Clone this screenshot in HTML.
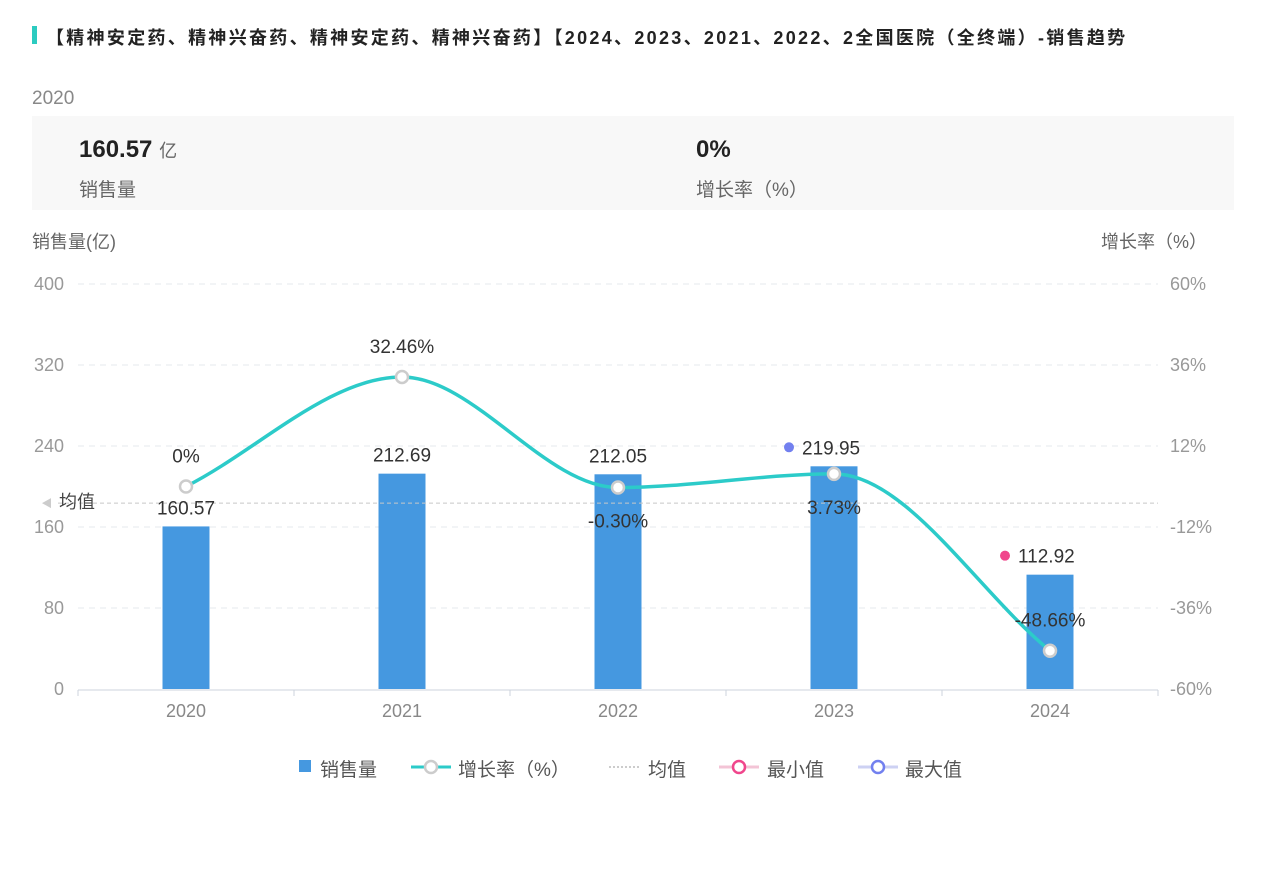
<!DOCTYPE html>
<html><head><meta charset="utf-8">
<style>
body{margin:0;width:1265px;height:869px;background:#fff;font-family:"Liberation Sans","Noto Sans CJK SC",sans-serif;position:relative;overflow:hidden}
.abs{position:absolute}
</style></head><body>
<div class="abs" style="left:32px;top:26px;width:5px;height:18px;background:#2ccbc0"></div>
<div class="abs" style="left:46px;top:24px;font-size:18px;font-weight:bold;color:#222;letter-spacing:2.3px;white-space:nowrap">【精神安定药、精神兴奋药、精神安定药、精神兴奋药】【2024、2023、2021、2022、2全国医院（全终端）-销售趋势</div>
<div class="abs" style="left:32px;top:88px;font-size:19px;color:#888">2020</div>
<div class="abs" style="left:32px;top:116px;width:1202px;height:94px;background:#f8f8f8"></div>
<div class="abs" style="left:79px;top:136px;font-size:24px;font-weight:bold;color:#222">160.57 <span style="font-size:18px;font-weight:normal;color:#666">亿</span></div>
<div class="abs" style="left:79px;top:175px;font-size:19px;color:#666">销售量</div>
<div class="abs" style="left:696px;top:136px;font-size:24px;font-weight:bold;color:#222">0%</div>
<div class="abs" style="left:696px;top:175px;font-size:19px;color:#666">增长率（%）</div>
<svg class="abs" style="left:0;top:0" width="1265" height="869" id="chart" font-family="Liberation Sans, Noto Sans CJK SC, sans-serif"></svg>
<script>
const categories=["2020","2021","2022","2023","2024"];
const sales=[160.57,212.69,212.05,219.95,112.92];
const growth=[0,32.46,-0.30,3.73,-48.66];
const leftTicks=[0,80,160,240,320,400];
const rightTicks=[-60,-36,-12,12,36,60];
const svg=document.getElementById('chart');
const NS='http://www.w3.org/2000/svg';
const X0=78,X1=1158,Y0=689,Y1=284;
const bw=(X1-X0)/categories.length;
const xc=i=>X0+bw*(i+0.5);
const yl=v=>Y0-(v/400)*(Y0-Y1);
const yr=v=>Y0-((v+60)/120)*(Y0-Y1);
function el(t,a,txt){const e=document.createElementNS(NS,t);for(const k in a)e.setAttribute(k,a[k]);if(txt!==undefined)e.textContent=txt;svg.appendChild(e);return e;}
let e;
e=el('text',{x:32,y:248,'font-size':18,fill:'#666'},'销售量(亿)');


e=el('text',{x:1207,y:248,'font-size':18,fill:'#666','text-anchor':'end'},'增长率（%）');


leftTicks.forEach((v,i)=>{
 const y=yl(v);
 if(v>0){e=el('line',{x1:X0,x2:X1,y1:y,y2:y,stroke:'#e6e8ec','stroke-dasharray':'6 5'});
 
 }
 e=el('text',{x:64,y:y+6,'font-size':18,fill:'#999','text-anchor':'end'},v);
 
 
 e=el('text',{x:1170,y:yr(rightTicks[i])+6,'font-size':18,fill:'#999'},rightTicks[i]+'%');
 
 
});
e=el('line',{x1:X0,x2:X1,y1:Y0+1,y2:Y0+1,stroke:'#ccd3dc'});


for(let i=0;i<=categories.length;i++){e=el('line',{x1:X0+bw*i,x2:X0+bw*i,y1:Y0+1,y2:Y0+7,stroke:'#ccd3dc'});

}
categories.forEach((c,i)=>{
 e=el('text',{x:xc(i),y:717,'font-size':18,fill:'#888','text-anchor':'middle'},c);
 
 
 e=el('rect',{x:xc(i)-23.5,y:yl(sales[i]),width:47,height:Y0-yl(sales[i]),fill:'#4598e0'});
 
 
});
const avg=sales.reduce((a,b)=>a+b,0)/sales.length;
e=el('line',{x1:X0-20,x2:X1,y1:yl(avg),y2:yl(avg),stroke:'#c8c8c8','stroke-dasharray':'4 3'});


e=el('path',{d:`M42 ${yl(avg)} l9 -5 v10z`,fill:'#ccc'});


e=el('text',{x:59,y:yl(avg)+5,'font-size':18,fill:'#444'},'均值');


// monotone cubic line
const pts=growth.map((g,i)=>[xc(i),yr(g)]);
const n=pts.length,sl=[],m=[];
for(let i=0;i<n-1;i++)sl.push((pts[i+1][1]-pts[i][1])/(pts[i+1][0]-pts[i][0]));
for(let i=0;i<n;i++){
 if(i==0)m.push(sl[0]);else if(i==n-1)m.push(sl[n-2]);
 else m.push(sl[i-1]*sl[i]<=0?0:(sl[i-1]+sl[i])/2);
}
let d=`M${pts[0][0]} ${pts[0][1]}`;
for(let i=0;i<n-1;i++){
 const h=(pts[i+1][0]-pts[i][0])/3;
 d+=` C${pts[i][0]+h} ${pts[i][1]+m[i]*h} ${pts[i+1][0]-h} ${pts[i+1][1]-m[i+1]*h} ${pts[i+1][0]} ${pts[i+1][1]}`;
}
e=el('path',{d,fill:'none',stroke:'#2ccbc9','stroke-width':3.5});


pts.forEach((p,i)=>{
 e=el('circle',{cx:p[0],cy:p[1],r:6,fill:'#fff',stroke:'#ccc','stroke-width':2.5});
 
 
 const above=(i==0||i==1||i==4);
 e=el('text',{x:p[0],y:above?p[1]-24:p[1]+40,'font-size':19,fill:'#333','text-anchor':'middle'},(growth[i]===0?'0':growth[i].toFixed(2))+'%');
 
 
});
sales.forEach((v,i)=>{
 let x=xc(i),y=yl(v)-12,anchor='middle';
 if(i==3||i==4){e=el('circle',{cx:xc(i)-45,cy:yl(v)-19,r:5,fill:i==3?'#7280ef':'#f0468c'});
 
 
 x=xc(i)-32;anchor='start';}
 e=el('text',{x,y,'font-size':19,fill:'#333','text-anchor':anchor},v.toFixed(2));
 
 
});
function lt(x,t,n){e=el('text',{x,y:776,'font-size':19,fill:'#555'},t);}
e=el('rect',{x:299,y:760,width:12,height:12,fill:'#4598e0'});


lt(320,'销售量','legend-sales');
e=el('line',{x1:411,x2:451,y1:767,y2:767,stroke:'#2ccbc9','stroke-width':3});


e=el('circle',{cx:431,cy:767,r:6,fill:'#fff',stroke:'#ccc','stroke-width':2.5});


lt(458,'增长率（%）','legend-growth');
e=el('line',{x1:609,x2:639,y1:767,y2:767,stroke:'#bbb','stroke-dasharray':'2 2','stroke-width':1.5});


lt(648,'均值','legend-average');
e=el('line',{x1:719,x2:759,y1:767,y2:767,stroke:'#f3c4d6','stroke-width':3});


e=el('circle',{cx:739,cy:767,r:6,fill:'#fff',stroke:'#f0468c','stroke-width':2.5});


lt(767,'最小值','legend-min');
e=el('line',{x1:858,x2:898,y1:767,y2:767,stroke:'#cdd1f3','stroke-width':3});


e=el('circle',{cx:878,cy:767,r:6,fill:'#fff',stroke:'#7280ef','stroke-width':2.5});


lt(905,'最大值','legend-max');
</script>
</body></html>
